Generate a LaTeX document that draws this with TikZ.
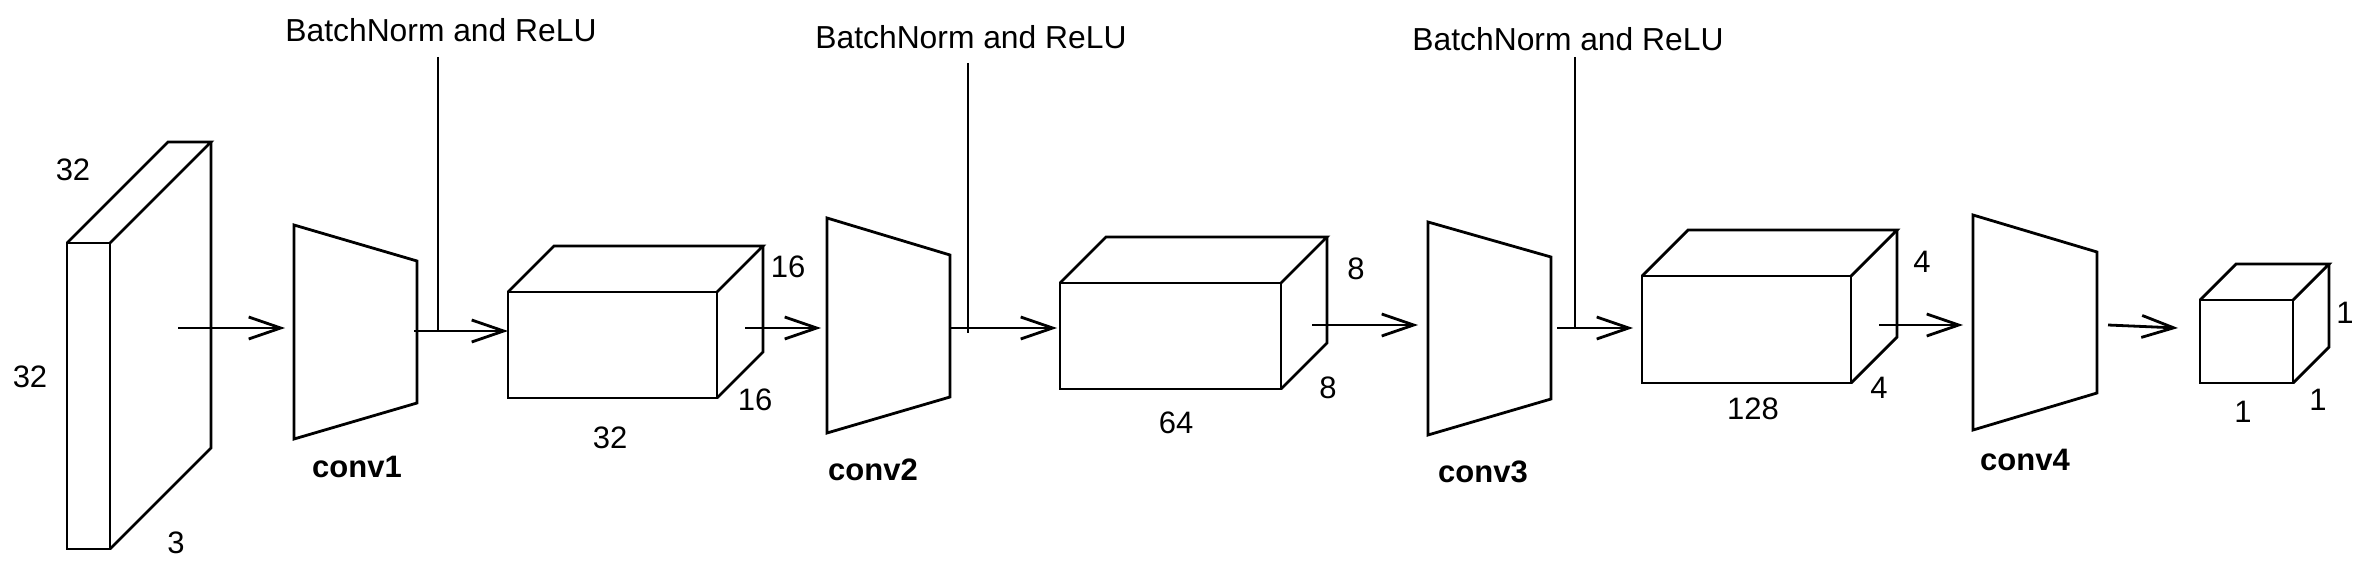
\documentclass[tikz,border=0pt]{standalone}
\usepackage{fontspec}
\setmainfont{Liberation Sans}
\usetikzlibrary{arrows.meta}
\tikzset{
  ln/.style={line width=2.8pt, line join=miter},
  arr/.style={ln, -{Straight Barb[length=32pt,width=22pt,line width=2.8pt]}},
  lbl/.style={inner sep=0pt, font=\fontsize{31}{37}\selectfont},
  bnlbl/.style={inner sep=0pt, font=\fontsize{31.8}{38}\selectfont},
  conv/.style={inner sep=0pt, font=\fontsize{31}{37}\selectfont\bfseries},
}
\newcommand{\mycuboid}[5]{% x y w h d
  \draw[ln] (#1,#2) rectangle ({#1+#3},{#2+#4});
  \draw[ln] (#1,#2) -- ({#1+#5},{#2-#5}) -- ({#1+#3+#5},{#2-#5}) -- ({#1+#3},#2);
  \draw[ln] ({#1+#3+#5},{#2-#5}) -- ({#1+#3+#5},{#2+#4-#5}) -- ({#1+#3},{#2+#4});
}
\begin{document}
\begin{tikzpicture}[x=1pt,y=-1pt]
\useasboundingbox (0,0) rectangle (2362,586);
% tensors
\mycuboid{67}{243}{43}{306}{101}
\mycuboid{508}{292}{209}{106}{46}
\mycuboid{1060}{283}{221}{106}{46}
\mycuboid{1642}{276}{209}{107}{46}
\mycuboid{2200}{300}{93}{83}{36}
% conv trapezoids
\draw[ln] (294,225) -- (417,261) -- (417,403) -- (294,439) -- cycle;
\draw[ln] (827,218) -- (950,255) -- (950,397) -- (827,433) -- cycle;
\draw[ln] (1428,222) -- (1551,257) -- (1551,399) -- (1428,435) -- cycle;
\draw[ln] (1973,215) -- (2097,252) -- (2097,393) -- (1973,430) -- cycle;
% coordinates
\coordinate (a0s) at (178,328); \coordinate (a0e) at (285,328);
\coordinate (a1s) at (414,331); \coordinate (a1e) at (508,331);
\coordinate (a2s) at (745,328); \coordinate (a2e) at (821,328);
\coordinate (a3s) at (950,328); \coordinate (a3e) at (1057,328);
\coordinate (a4s) at (1312,325); \coordinate (a4e) at (1418,325);
\coordinate (a5s) at (1557,328); \coordinate (a5e) at (1633,328);
\coordinate (a6s) at (1879,325); \coordinate (a6e) at (1963,325);
\coordinate (a7s) at (2108,325); \coordinate (a7e) at (2178,328);
\coordinate (b1t) at (438,57); \coordinate (b1b) at (438,331);
\coordinate (b2t) at (968,63); \coordinate (b2b) at (968,333);
\coordinate (b3t) at (1575,57); \coordinate (b3b) at (1575,328);
% arrows
\draw[arr] (a0s) -- (a0e);
\draw[arr] (a1s) -- (a1e);
\draw[arr] (a2s) -- (a2e);
\draw[arr] (a3s) -- (a3e);
\draw[arr] (a4s) -- (a4e);
\draw[arr] (a5s) -- (a5e);
\draw[arr] (a6s) -- (a6e);
\draw[arr] (a7s) -- (a7e);
\draw[ln] (b1t) -- (b1b);
\draw[ln] (b2t) -- (b2b);
\draw[ln] (b3t) -- (b3b);
% BN labels
\node[bnlbl] (bn1) at (441,30) {BatchNorm and ReLU};
\node[bnlbl] (bn2) at (971,37) {BatchNorm and ReLU};
\node[bnlbl] (bn3) at (1568,39) {BatchNorm and ReLU};
% conv labels
\node[conv] (c1) at (357,467) {conv1};
\node[conv] (c2) at (873,470) {conv2};
\node[conv] (c3) at (1483,472) {conv3};
\node[conv] (c4) at (2025,460) {conv4};
% dims
\node[lbl] (d01) at (73,170) {32};
\node[lbl] (d02) at (30,377) {32};
\node[lbl] (d03) at (176,543) {3};
\node[lbl] (d11) at (788,267) {16};
\node[lbl] (d12) at (755,400) {16};
\node[lbl] (d13) at (610,438) {32};
\node[lbl] (d21) at (1356,269) {8};
\node[lbl] (d22) at (1328,388) {8};
\node[lbl] (d23) at (1176,423) {64};
\node[lbl] (d31) at (1922,262) {4};
\node[lbl] (d32) at (1879,388) {4};
\node[lbl] (d33) at (1753,409) {128};
\node[lbl] (d41) at (2345,313) {1};
\node[lbl] (d42) at (2318,400) {1};
\node[lbl] (d43) at (2243,412) {1};
\end{tikzpicture}
\end{document}
